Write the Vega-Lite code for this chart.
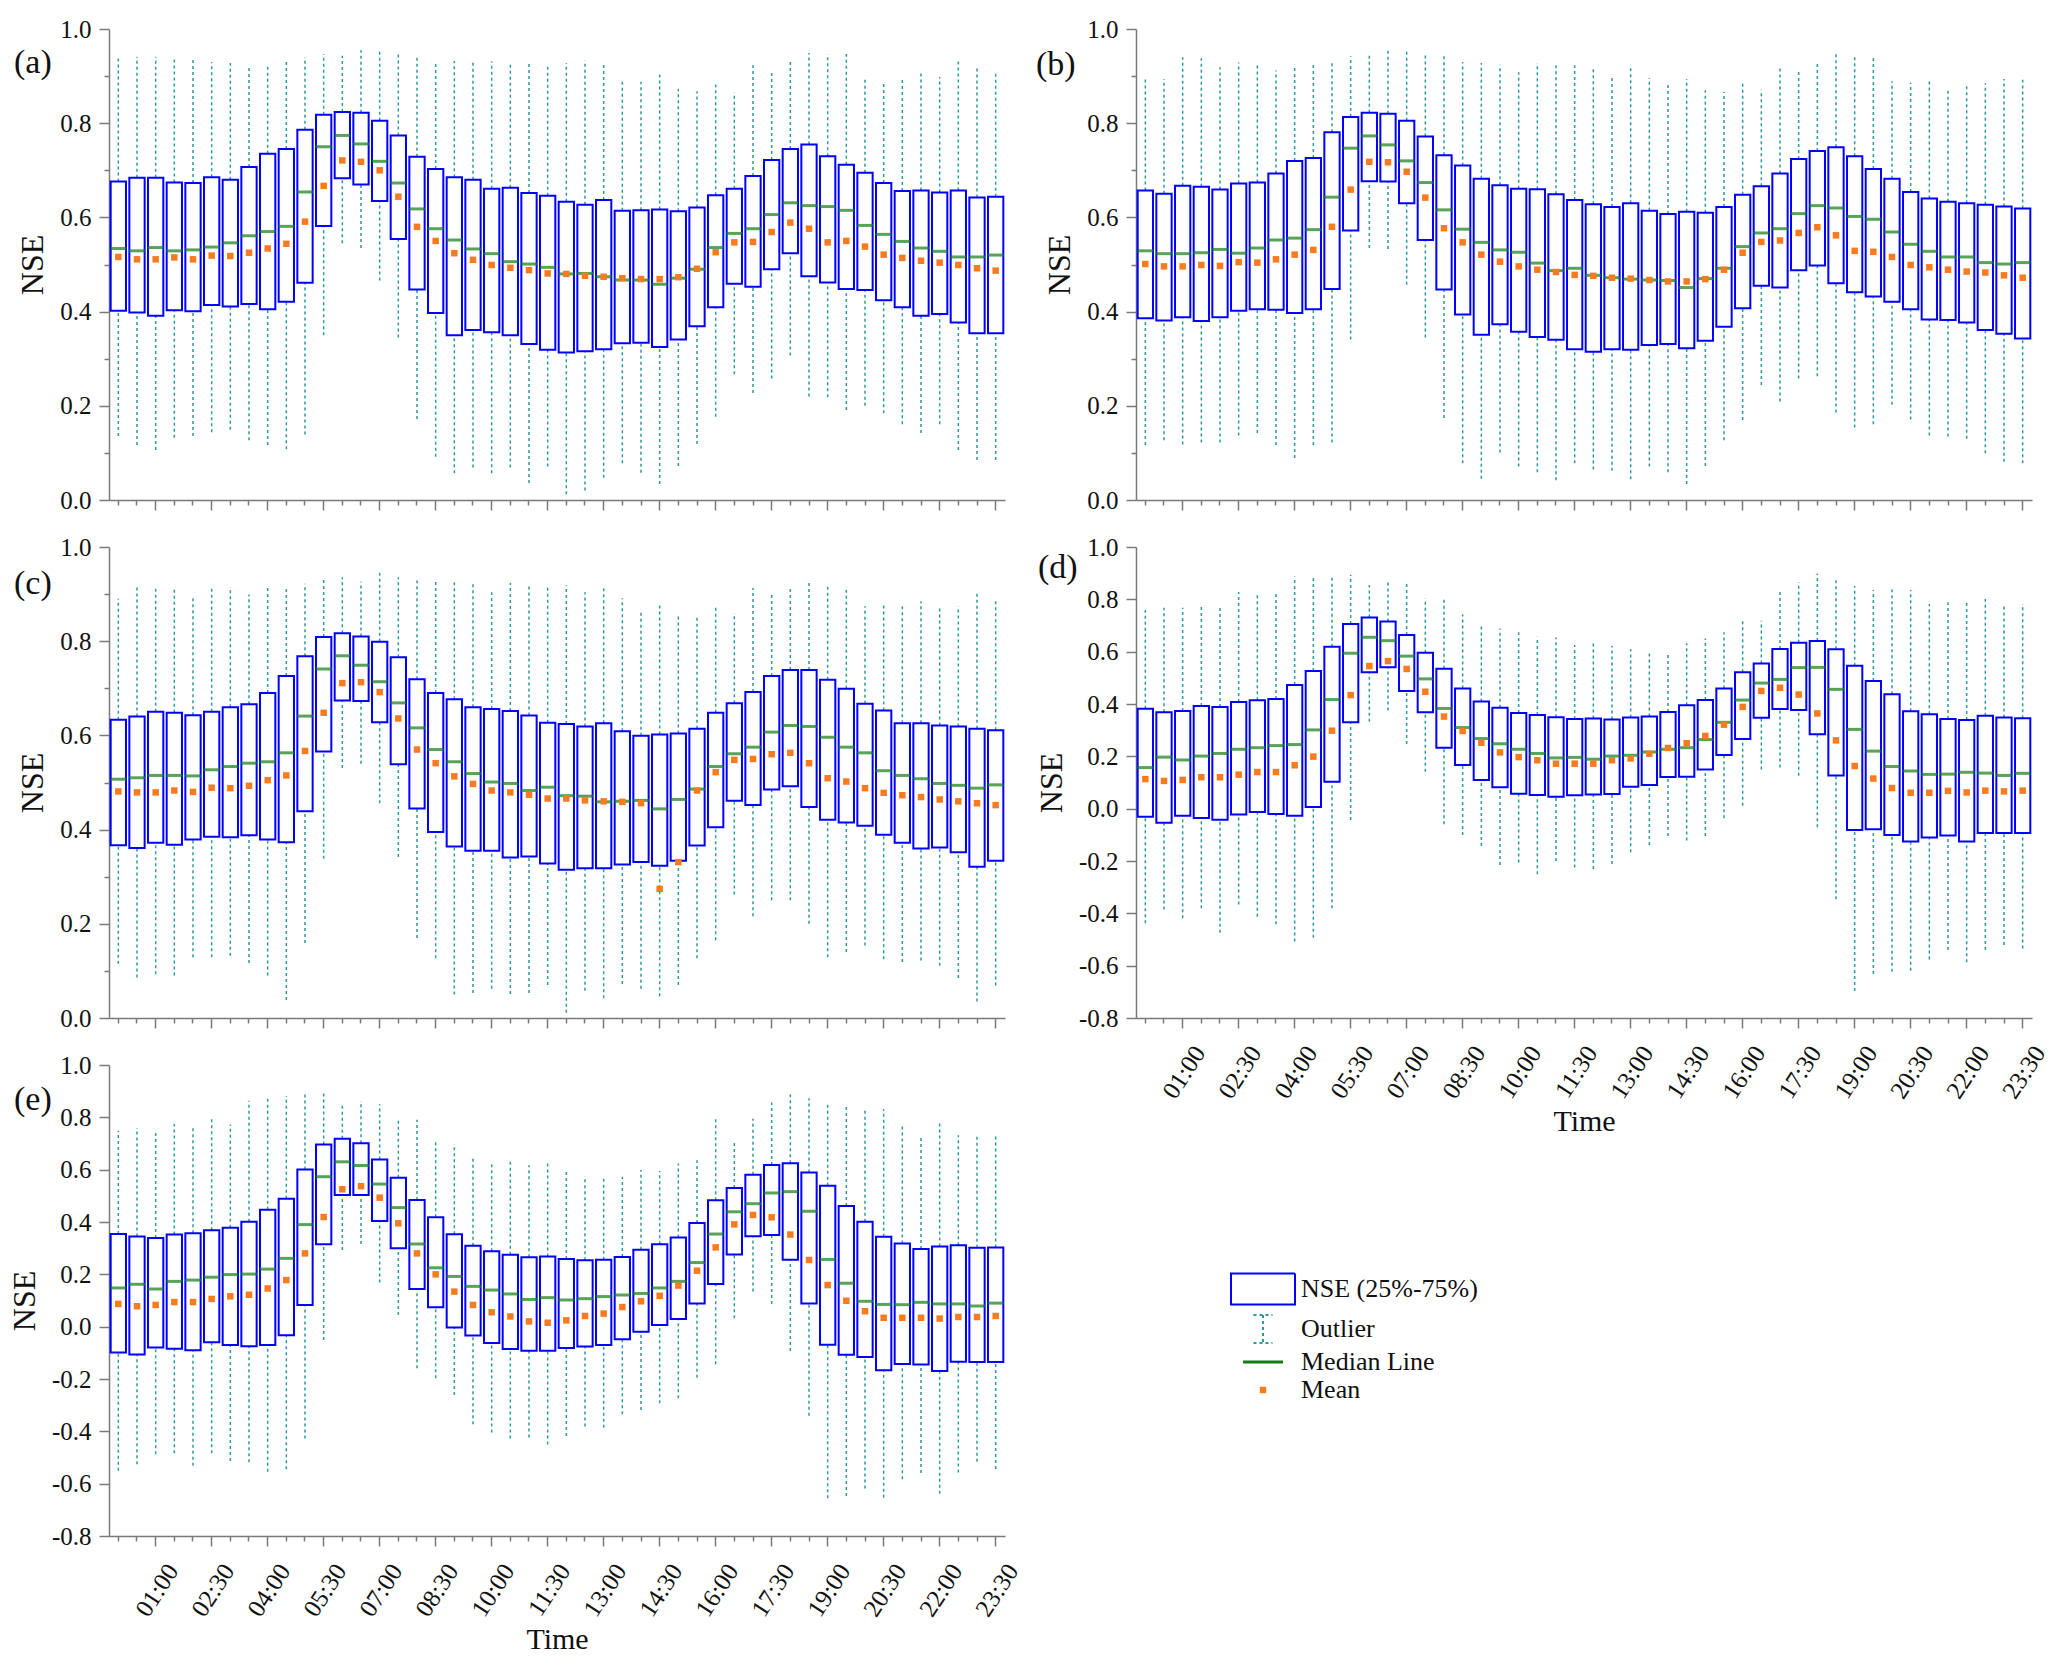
{
  "$schema": "https://vega.github.io/schema/vega-lite/v6.json",
  "background": "white",
  "padding": {"left": 8, "top": 17, "right": 5, "bottom": 5},
  "datasets": {
    "a": [
      {"t":"00:00","q1":0.402,"q3":0.676,"md":0.534,"mn":0.516,"lo":0.136,"hi":0.940},
      {"t":"00:30","q1":0.398,"q3":0.684,"md":0.529,"mn":0.511,"lo":0.117,"hi":0.941},
      {"t":"01:00","q1":0.391,"q3":0.684,"md":0.536,"mn":0.511,"lo":0.106,"hi":0.941},
      {"t":"01:30","q1":0.403,"q3":0.674,"md":0.529,"mn":0.515,"lo":0.132,"hi":0.939},
      {"t":"02:00","q1":0.401,"q3":0.673,"md":0.531,"mn":0.511,"lo":0.136,"hi":0.934},
      {"t":"02:30","q1":0.414,"q3":0.685,"md":0.537,"mn":0.519,"lo":0.144,"hi":0.930},
      {"t":"03:00","q1":0.411,"q3":0.680,"md":0.546,"mn":0.518,"lo":0.149,"hi":0.928},
      {"t":"03:30","q1":0.416,"q3":0.707,"md":0.561,"mn":0.525,"lo":0.127,"hi":0.919},
      {"t":"04:00","q1":0.405,"q3":0.735,"md":0.570,"mn":0.534,"lo":0.117,"hi":0.926},
      {"t":"04:30","q1":0.421,"q3":0.745,"md":0.581,"mn":0.544,"lo":0.108,"hi":0.933},
      {"t":"05:00","q1":0.461,"q3":0.786,"md":0.654,"mn":0.591,"lo":0.139,"hi":0.940},
      {"t":"05:30","q1":0.582,"q3":0.818,"md":0.750,"mn":0.667,"lo":0.350,"hi":0.947},
      {"t":"06:00","q1":0.683,"q3":0.824,"md":0.774,"mn":0.721,"lo":0.545,"hi":0.943},
      {"t":"06:30","q1":0.670,"q3":0.822,"md":0.756,"mn":0.718,"lo":0.535,"hi":0.955},
      {"t":"07:00","q1":0.635,"q3":0.805,"md":0.719,"mn":0.700,"lo":0.466,"hi":0.955},
      {"t":"07:30","q1":0.554,"q3":0.774,"md":0.673,"mn":0.644,"lo":0.345,"hi":0.946},
      {"t":"08:00","q1":0.447,"q3":0.729,"md":0.618,"mn":0.580,"lo":0.172,"hi":0.941},
      {"t":"08:30","q1":0.397,"q3":0.703,"md":0.576,"mn":0.550,"lo":0.092,"hi":0.930},
      {"t":"09:00","q1":0.350,"q3":0.685,"md":0.552,"mn":0.524,"lo":0.057,"hi":0.932},
      {"t":"09:30","q1":0.361,"q3":0.680,"md":0.533,"mn":0.510,"lo":0.069,"hi":0.932},
      {"t":"10:00","q1":0.356,"q3":0.661,"md":0.523,"mn":0.499,"lo":0.057,"hi":0.931},
      {"t":"10:30","q1":0.350,"q3":0.663,"md":0.506,"mn":0.493,"lo":0.069,"hi":0.928},
      {"t":"11:00","q1":0.331,"q3":0.652,"md":0.501,"mn":0.488,"lo":0.036,"hi":0.931},
      {"t":"11:30","q1":0.319,"q3":0.646,"md":0.494,"mn":0.481,"lo":0.071,"hi":0.926},
      {"t":"12:00","q1":0.313,"q3":0.633,"md":0.480,"mn":0.480,"lo":0.012,"hi":0.928},
      {"t":"12:30","q1":0.316,"q3":0.627,"md":0.481,"mn":0.476,"lo":0.020,"hi":0.933},
      {"t":"13:00","q1":0.320,"q3":0.637,"md":0.474,"mn":0.474,"lo":0.047,"hi":0.928},
      {"t":"13:30","q1":0.333,"q3":0.614,"md":0.467,"mn":0.471,"lo":0.078,"hi":0.891},
      {"t":"14:00","q1":0.334,"q3":0.615,"md":0.467,"mn":0.469,"lo":0.058,"hi":0.888},
      {"t":"14:30","q1":0.325,"q3":0.617,"md":0.458,"mn":0.469,"lo":0.034,"hi":0.910},
      {"t":"15:00","q1":0.341,"q3":0.613,"md":0.471,"mn":0.473,"lo":0.072,"hi":0.873},
      {"t":"15:30","q1":0.369,"q3":0.621,"md":0.490,"mn":0.491,"lo":0.119,"hi":0.868},
      {"t":"16:00","q1":0.409,"q3":0.647,"md":0.536,"mn":0.526,"lo":0.177,"hi":0.882},
      {"t":"16:30","q1":0.459,"q3":0.661,"md":0.566,"mn":0.547,"lo":0.267,"hi":0.865},
      {"t":"17:00","q1":0.453,"q3":0.688,"md":0.576,"mn":0.548,"lo":0.227,"hi":0.923},
      {"t":"17:30","q1":0.490,"q3":0.722,"md":0.606,"mn":0.569,"lo":0.258,"hi":0.909},
      {"t":"18:00","q1":0.524,"q3":0.745,"md":0.631,"mn":0.589,"lo":0.307,"hi":0.932},
      {"t":"18:30","q1":0.475,"q3":0.755,"md":0.625,"mn":0.576,"lo":0.220,"hi":0.949},
      {"t":"19:00","q1":0.462,"q3":0.730,"md":0.623,"mn":0.547,"lo":0.218,"hi":0.947},
      {"t":"19:30","q1":0.448,"q3":0.712,"md":0.615,"mn":0.550,"lo":0.191,"hi":0.947},
      {"t":"20:00","q1":0.446,"q3":0.695,"md":0.583,"mn":0.538,"lo":0.200,"hi":0.892},
      {"t":"20:30","q1":0.424,"q3":0.673,"md":0.564,"mn":0.521,"lo":0.184,"hi":0.889},
      {"t":"21:00","q1":0.409,"q3":0.656,"md":0.549,"mn":0.514,"lo":0.161,"hi":0.897},
      {"t":"21:30","q1":0.391,"q3":0.657,"md":0.535,"mn":0.508,"lo":0.142,"hi":0.906},
      {"t":"22:00","q1":0.395,"q3":0.653,"md":0.528,"mn":0.504,"lo":0.161,"hi":0.898},
      {"t":"22:30","q1":0.377,"q3":0.657,"md":0.516,"mn":0.499,"lo":0.106,"hi":0.931},
      {"t":"23:00","q1":0.354,"q3":0.642,"md":0.516,"mn":0.492,"lo":0.085,"hi":0.922},
      {"t":"23:30","q1":0.354,"q3":0.644,"md":0.520,"mn":0.487,"lo":0.085,"hi":0.905}
    ],
    "b": [
      {"t":"00:00","q1":0.386,"q3":0.657,"md":0.529,"mn":0.501,"lo":0.117,"hi":0.897},
      {"t":"00:30","q1":0.381,"q3":0.650,"md":0.523,"mn":0.496,"lo":0.127,"hi":0.894},
      {"t":"01:00","q1":0.388,"q3":0.667,"md":0.523,"mn":0.496,"lo":0.118,"hi":0.940},
      {"t":"01:30","q1":0.380,"q3":0.665,"md":0.525,"mn":0.499,"lo":0.122,"hi":0.938},
      {"t":"02:00","q1":0.388,"q3":0.659,"md":0.532,"mn":0.497,"lo":0.122,"hi":0.919},
      {"t":"02:30","q1":0.402,"q3":0.672,"md":0.524,"mn":0.505,"lo":0.137,"hi":0.929},
      {"t":"03:00","q1":0.405,"q3":0.674,"md":0.535,"mn":0.504,"lo":0.142,"hi":0.926},
      {"t":"03:30","q1":0.404,"q3":0.693,"md":0.552,"mn":0.511,"lo":0.117,"hi":0.912},
      {"t":"04:00","q1":0.397,"q3":0.720,"md":0.556,"mn":0.521,"lo":0.089,"hi":0.924},
      {"t":"04:30","q1":0.405,"q3":0.726,"md":0.574,"mn":0.531,"lo":0.117,"hi":0.924},
      {"t":"05:00","q1":0.448,"q3":0.781,"md":0.643,"mn":0.580,"lo":0.122,"hi":0.931},
      {"t":"05:30","q1":0.572,"q3":0.813,"md":0.747,"mn":0.659,"lo":0.341,"hi":0.942},
      {"t":"06:00","q1":0.677,"q3":0.822,"md":0.773,"mn":0.718,"lo":0.535,"hi":0.945},
      {"t":"06:30","q1":0.676,"q3":0.820,"md":0.754,"mn":0.717,"lo":0.533,"hi":0.957},
      {"t":"07:00","q1":0.630,"q3":0.805,"md":0.720,"mn":0.697,"lo":0.457,"hi":0.955},
      {"t":"07:30","q1":0.552,"q3":0.772,"md":0.674,"mn":0.642,"lo":0.345,"hi":0.945},
      {"t":"08:00","q1":0.447,"q3":0.732,"md":0.616,"mn":0.577,"lo":0.174,"hi":0.942},
      {"t":"08:30","q1":0.394,"q3":0.710,"md":0.575,"mn":0.547,"lo":0.078,"hi":0.930},
      {"t":"09:00","q1":0.351,"q3":0.682,"md":0.547,"mn":0.521,"lo":0.045,"hi":0.928},
      {"t":"09:30","q1":0.373,"q3":0.668,"md":0.531,"mn":0.506,"lo":0.101,"hi":0.924},
      {"t":"10:00","q1":0.357,"q3":0.661,"md":0.526,"mn":0.496,"lo":0.071,"hi":0.908},
      {"t":"10:30","q1":0.346,"q3":0.660,"md":0.503,"mn":0.489,"lo":0.059,"hi":0.928},
      {"t":"11:00","q1":0.340,"q3":0.649,"md":0.487,"mn":0.484,"lo":0.042,"hi":0.923},
      {"t":"11:30","q1":0.320,"q3":0.637,"md":0.492,"mn":0.478,"lo":0.078,"hi":0.923},
      {"t":"12:00","q1":0.315,"q3":0.628,"md":0.477,"mn":0.476,"lo":0.065,"hi":0.921},
      {"t":"12:30","q1":0.320,"q3":0.622,"md":0.472,"mn":0.472,"lo":0.062,"hi":0.903},
      {"t":"13:00","q1":0.319,"q3":0.630,"md":0.469,"mn":0.470,"lo":0.044,"hi":0.917},
      {"t":"13:30","q1":0.329,"q3":0.614,"md":0.467,"mn":0.467,"lo":0.071,"hi":0.896},
      {"t":"14:00","q1":0.331,"q3":0.607,"md":0.466,"mn":0.464,"lo":0.059,"hi":0.882},
      {"t":"14:30","q1":0.322,"q3":0.612,"md":0.451,"mn":0.464,"lo":0.034,"hi":0.894},
      {"t":"15:00","q1":0.338,"q3":0.610,"md":0.470,"mn":0.469,"lo":0.072,"hi":0.870},
      {"t":"15:30","q1":0.368,"q3":0.622,"md":0.492,"mn":0.489,"lo":0.127,"hi":0.866},
      {"t":"16:00","q1":0.407,"q3":0.648,"md":0.538,"mn":0.525,"lo":0.170,"hi":0.885},
      {"t":"16:30","q1":0.455,"q3":0.666,"md":0.567,"mn":0.548,"lo":0.244,"hi":0.871},
      {"t":"17:00","q1":0.451,"q3":0.693,"md":0.576,"mn":0.551,"lo":0.209,"hi":0.921},
      {"t":"17:30","q1":0.488,"q3":0.724,"md":0.608,"mn":0.567,"lo":0.258,"hi":0.909},
      {"t":"18:00","q1":0.498,"q3":0.741,"md":0.625,"mn":0.579,"lo":0.263,"hi":0.931},
      {"t":"18:30","q1":0.460,"q3":0.749,"md":0.620,"mn":0.562,"lo":0.186,"hi":0.951},
      {"t":"19:00","q1":0.441,"q3":0.730,"md":0.602,"mn":0.529,"lo":0.154,"hi":0.943},
      {"t":"19:30","q1":0.432,"q3":0.703,"md":0.596,"mn":0.527,"lo":0.161,"hi":0.943},
      {"t":"20:00","q1":0.421,"q3":0.682,"md":0.569,"mn":0.516,"lo":0.202,"hi":0.889},
      {"t":"20:30","q1":0.405,"q3":0.654,"md":0.543,"mn":0.499,"lo":0.171,"hi":0.886},
      {"t":"21:00","q1":0.383,"q3":0.640,"md":0.528,"mn":0.494,"lo":0.137,"hi":0.895},
      {"t":"21:30","q1":0.382,"q3":0.633,"md":0.516,"mn":0.489,"lo":0.135,"hi":0.874},
      {"t":"22:00","q1":0.377,"q3":0.630,"md":0.516,"mn":0.485,"lo":0.130,"hi":0.882},
      {"t":"22:30","q1":0.361,"q3":0.627,"md":0.504,"mn":0.483,"lo":0.099,"hi":0.885},
      {"t":"23:00","q1":0.353,"q3":0.623,"md":0.501,"mn":0.477,"lo":0.081,"hi":0.894},
      {"t":"23:30","q1":0.343,"q3":0.619,"md":0.504,"mn":0.472,"lo":0.078,"hi":0.892}
    ],
    "c": [
      {"t":"00:00","q1":0.367,"q3":0.633,"md":0.507,"mn":0.481,"lo":0.115,"hi":0.890},
      {"t":"00:30","q1":0.361,"q3":0.640,"md":0.510,"mn":0.479,"lo":0.086,"hi":0.919},
      {"t":"01:00","q1":0.372,"q3":0.650,"md":0.515,"mn":0.479,"lo":0.093,"hi":0.916},
      {"t":"01:30","q1":0.368,"q3":0.648,"md":0.515,"mn":0.483,"lo":0.090,"hi":0.915},
      {"t":"02:00","q1":0.379,"q3":0.643,"md":0.514,"mn":0.480,"lo":0.129,"hi":0.895},
      {"t":"02:30","q1":0.385,"q3":0.650,"md":0.527,"mn":0.489,"lo":0.129,"hi":0.915},
      {"t":"03:00","q1":0.384,"q3":0.660,"md":0.534,"mn":0.488,"lo":0.132,"hi":0.915},
      {"t":"03:30","q1":0.388,"q3":0.666,"md":0.541,"mn":0.493,"lo":0.117,"hi":0.899},
      {"t":"04:00","q1":0.379,"q3":0.690,"md":0.544,"mn":0.505,"lo":0.090,"hi":0.913},
      {"t":"04:30","q1":0.373,"q3":0.726,"md":0.563,"mn":0.515,"lo":0.038,"hi":0.914},
      {"t":"05:00","q1":0.439,"q3":0.768,"md":0.641,"mn":0.567,"lo":0.159,"hi":0.922},
      {"t":"05:30","q1":0.566,"q3":0.809,"md":0.741,"mn":0.648,"lo":0.338,"hi":0.932},
      {"t":"06:00","q1":0.674,"q3":0.817,"md":0.769,"mn":0.711,"lo":0.531,"hi":0.936},
      {"t":"06:30","q1":0.673,"q3":0.810,"md":0.749,"mn":0.713,"lo":0.540,"hi":0.926},
      {"t":"07:00","q1":0.628,"q3":0.799,"md":0.714,"mn":0.692,"lo":0.456,"hi":0.948},
      {"t":"07:30","q1":0.539,"q3":0.766,"md":0.669,"mn":0.636,"lo":0.342,"hi":0.936},
      {"t":"08:00","q1":0.445,"q3":0.719,"md":0.616,"mn":0.570,"lo":0.170,"hi":0.929},
      {"t":"08:30","q1":0.395,"q3":0.690,"md":0.570,"mn":0.541,"lo":0.127,"hi":0.926},
      {"t":"09:00","q1":0.364,"q3":0.677,"md":0.544,"mn":0.513,"lo":0.050,"hi":0.926},
      {"t":"09:30","q1":0.355,"q3":0.660,"md":0.519,"mn":0.497,"lo":0.053,"hi":0.924},
      {"t":"10:00","q1":0.355,"q3":0.656,"md":0.501,"mn":0.483,"lo":0.062,"hi":0.904},
      {"t":"10:30","q1":0.341,"q3":0.652,"md":0.498,"mn":0.479,"lo":0.051,"hi":0.924},
      {"t":"11:00","q1":0.343,"q3":0.642,"md":0.483,"mn":0.474,"lo":0.053,"hi":0.919},
      {"t":"11:30","q1":0.328,"q3":0.627,"md":0.490,"mn":0.466,"lo":0.070,"hi":0.920},
      {"t":"12:00","q1":0.315,"q3":0.624,"md":0.472,"mn":0.466,"lo":0.011,"hi":0.919},
      {"t":"12:30","q1":0.318,"q3":0.619,"md":0.471,"mn":0.462,"lo":0.058,"hi":0.904},
      {"t":"13:00","q1":0.318,"q3":0.626,"md":0.459,"mn":0.460,"lo":0.042,"hi":0.914},
      {"t":"13:30","q1":0.326,"q3":0.609,"md":0.460,"mn":0.459,"lo":0.072,"hi":0.891},
      {"t":"14:00","q1":0.331,"q3":0.599,"md":0.462,"mn":0.456,"lo":0.062,"hi":0.866},
      {"t":"14:30","q1":0.323,"q3":0.602,"md":0.444,"mn":0.274,"lo":0.046,"hi":0.878},
      {"t":"15:00","q1":0.334,"q3":0.604,"md":0.464,"mn":0.331,"lo":0.070,"hi":0.856},
      {"t":"15:30","q1":0.366,"q3":0.614,"md":0.486,"mn":0.483,"lo":0.127,"hi":0.856},
      {"t":"16:00","q1":0.405,"q3":0.648,"md":0.534,"mn":0.522,"lo":0.165,"hi":0.875},
      {"t":"16:30","q1":0.461,"q3":0.668,"md":0.561,"mn":0.548,"lo":0.262,"hi":0.860},
      {"t":"17:00","q1":0.452,"q3":0.692,"md":0.575,"mn":0.550,"lo":0.216,"hi":0.913},
      {"t":"17:30","q1":0.485,"q3":0.726,"md":0.607,"mn":0.560,"lo":0.250,"hi":0.902},
      {"t":"18:00","q1":0.492,"q3":0.739,"md":0.621,"mn":0.563,"lo":0.250,"hi":0.913},
      {"t":"18:30","q1":0.448,"q3":0.739,"md":0.619,"mn":0.541,"lo":0.200,"hi":0.926},
      {"t":"19:00","q1":0.421,"q3":0.718,"md":0.596,"mn":0.509,"lo":0.129,"hi":0.919},
      {"t":"19:30","q1":0.415,"q3":0.699,"md":0.575,"mn":0.502,"lo":0.140,"hi":0.916},
      {"t":"20:00","q1":0.408,"q3":0.667,"md":0.563,"mn":0.488,"lo":0.154,"hi":0.874},
      {"t":"20:30","q1":0.389,"q3":0.653,"md":0.525,"mn":0.478,"lo":0.125,"hi":0.876},
      {"t":"21:00","q1":0.372,"q3":0.626,"md":0.515,"mn":0.473,"lo":0.119,"hi":0.876},
      {"t":"21:30","q1":0.360,"q3":0.626,"md":0.508,"mn":0.469,"lo":0.122,"hi":0.885},
      {"t":"22:00","q1":0.362,"q3":0.621,"md":0.498,"mn":0.464,"lo":0.111,"hi":0.870},
      {"t":"22:30","q1":0.352,"q3":0.619,"md":0.494,"mn":0.460,"lo":0.085,"hi":0.874},
      {"t":"23:00","q1":0.321,"q3":0.614,"md":0.488,"mn":0.456,"lo":0.035,"hi":0.901},
      {"t":"23:30","q1":0.334,"q3":0.611,"md":0.495,"mn":0.452,"lo":0.069,"hi":0.887}
    ],
    "d": [
      {"t":"00:00","q1":-0.031,"q3":0.382,"md":0.157,"mn":0.113,"lo":-0.438,"hi":0.759},
      {"t":"00:30","q1":-0.054,"q3":0.368,"md":0.197,"mn":0.106,"lo":-0.385,"hi":0.768},
      {"t":"01:00","q1":-0.027,"q3":0.373,"md":0.186,"mn":0.110,"lo":-0.419,"hi":0.768},
      {"t":"01:30","q1":-0.036,"q3":0.392,"md":0.201,"mn":0.120,"lo":-0.381,"hi":0.782},
      {"t":"02:00","q1":-0.042,"q3":0.389,"md":0.211,"mn":0.120,"lo":-0.474,"hi":0.775},
      {"t":"02:30","q1":-0.022,"q3":0.408,"md":0.227,"mn":0.130,"lo":-0.366,"hi":0.828},
      {"t":"03:00","q1":-0.013,"q3":0.414,"md":0.233,"mn":0.140,"lo":-0.413,"hi":0.823},
      {"t":"03:30","q1":-0.020,"q3":0.419,"md":0.241,"mn":0.140,"lo":-0.442,"hi":0.820},
      {"t":"04:00","q1":-0.027,"q3":0.473,"md":0.245,"mn":0.166,"lo":-0.508,"hi":0.887},
      {"t":"04:30","q1":0.006,"q3":0.526,"md":0.301,"mn":0.199,"lo":-0.493,"hi":0.884},
      {"t":"05:00","q1":0.103,"q3":0.619,"md":0.417,"mn":0.298,"lo":-0.381,"hi":0.894},
      {"t":"05:30","q1":0.330,"q3":0.706,"md":0.594,"mn":0.434,"lo":-0.043,"hi":0.894},
      {"t":"06:00","q1":0.521,"q3":0.731,"md":0.655,"mn":0.545,"lo":0.332,"hi":0.855},
      {"t":"06:30","q1":0.540,"q3":0.715,"md":0.642,"mn":0.564,"lo":0.375,"hi":0.868},
      {"t":"07:00","q1":0.450,"q3":0.664,"md":0.583,"mn":0.534,"lo":0.247,"hi":0.861},
      {"t":"07:30","q1":0.368,"q3":0.596,"md":0.496,"mn":0.447,"lo":0.141,"hi":0.803},
      {"t":"08:00","q1":0.233,"q3":0.535,"md":0.383,"mn":0.352,"lo":-0.060,"hi":0.808},
      {"t":"08:30","q1":0.167,"q3":0.459,"md":0.310,"mn":0.297,"lo":-0.101,"hi":0.743},
      {"t":"09:00","q1":0.110,"q3":0.410,"md":0.268,"mn":0.252,"lo":-0.143,"hi":0.696},
      {"t":"09:30","q1":0.082,"q3":0.386,"md":0.248,"mn":0.215,"lo":-0.215,"hi":0.689},
      {"t":"10:00","q1":0.057,"q3":0.366,"md":0.227,"mn":0.197,"lo":-0.206,"hi":0.674},
      {"t":"10:30","q1":0.052,"q3":0.358,"md":0.211,"mn":0.185,"lo":-0.251,"hi":0.657},
      {"t":"11:00","q1":0.046,"q3":0.349,"md":0.194,"mn":0.172,"lo":-0.200,"hi":0.654},
      {"t":"11:30","q1":0.051,"q3":0.343,"md":0.196,"mn":0.172,"lo":-0.225,"hi":0.625},
      {"t":"12:00","q1":0.054,"q3":0.345,"md":0.189,"mn":0.172,"lo":-0.231,"hi":0.632},
      {"t":"12:30","q1":0.056,"q3":0.341,"md":0.201,"mn":0.185,"lo":-0.211,"hi":0.623},
      {"t":"13:00","q1":0.084,"q3":0.348,"md":0.204,"mn":0.192,"lo":-0.167,"hi":0.610},
      {"t":"13:30","q1":0.090,"q3":0.352,"md":0.217,"mn":0.210,"lo":-0.139,"hi":0.597},
      {"t":"14:00","q1":0.121,"q3":0.369,"md":0.227,"mn":0.232,"lo":-0.104,"hi":0.597},
      {"t":"14:30","q1":0.122,"q3":0.395,"md":0.233,"mn":0.250,"lo":-0.122,"hi":0.632},
      {"t":"15:00","q1":0.150,"q3":0.415,"md":0.264,"mn":0.278,"lo":-0.104,"hi":0.650},
      {"t":"15:30","q1":0.205,"q3":0.459,"md":0.330,"mn":0.321,"lo":-0.037,"hi":0.674},
      {"t":"16:00","q1":0.266,"q3":0.521,"md":0.415,"mn":0.389,"lo":0.011,"hi":0.721},
      {"t":"16:30","q1":0.347,"q3":0.555,"md":0.480,"mn":0.450,"lo":0.150,"hi":0.718},
      {"t":"17:00","q1":0.381,"q3":0.610,"md":0.494,"mn":0.462,"lo":0.157,"hi":0.836},
      {"t":"17:30","q1":0.377,"q3":0.634,"md":0.539,"mn":0.436,"lo":0.126,"hi":0.865},
      {"t":"18:00","q1":0.284,"q3":0.641,"md":0.540,"mn":0.364,"lo":-0.071,"hi":0.899},
      {"t":"18:30","q1":0.127,"q3":0.609,"md":0.456,"mn":0.261,"lo":-0.346,"hi":0.876},
      {"t":"19:00","q1":-0.082,"q3":0.546,"md":0.303,"mn":0.163,"lo":-0.697,"hi":0.851},
      {"t":"19:30","q1":-0.079,"q3":0.488,"md":0.220,"mn":0.115,"lo":-0.632,"hi":0.836},
      {"t":"20:00","q1":-0.101,"q3":0.437,"md":0.161,"mn":0.079,"lo":-0.623,"hi":0.842},
      {"t":"20:30","q1":-0.125,"q3":0.372,"md":0.144,"mn":0.061,"lo":-0.619,"hi":0.836},
      {"t":"21:00","q1":-0.110,"q3":0.361,"md":0.131,"mn":0.061,"lo":-0.576,"hi":0.782},
      {"t":"21:30","q1":-0.103,"q3":0.343,"md":0.132,"mn":0.068,"lo":-0.540,"hi":0.789},
      {"t":"22:00","q1":-0.125,"q3":0.339,"md":0.139,"mn":0.062,"lo":-0.587,"hi":0.791},
      {"t":"22:30","q1":-0.093,"q3":0.355,"md":0.136,"mn":0.069,"lo":-0.540,"hi":0.801},
      {"t":"23:00","q1":-0.093,"q3":0.348,"md":0.127,"mn":0.066,"lo":-0.521,"hi":0.778},
      {"t":"23:30","q1":-0.093,"q3":0.346,"md":0.135,"mn":0.069,"lo":-0.534,"hi":0.782}
    ],
    "e": [
      {"t":"00:00","q1":-0.099,"q3":0.354,"md":0.148,"mn":0.087,"lo":-0.551,"hi":0.749},
      {"t":"00:30","q1":-0.106,"q3":0.345,"md":0.162,"mn":0.078,"lo":-0.526,"hi":0.759},
      {"t":"01:00","q1":-0.080,"q3":0.339,"md":0.144,"mn":0.083,"lo":-0.488,"hi":0.749},
      {"t":"01:30","q1":-0.084,"q3":0.352,"md":0.173,"mn":0.094,"lo":-0.484,"hi":0.775},
      {"t":"02:00","q1":-0.090,"q3":0.357,"md":0.178,"mn":0.094,"lo":-0.532,"hi":0.764},
      {"t":"02:30","q1":-0.060,"q3":0.368,"md":0.189,"mn":0.106,"lo":-0.484,"hi":0.796},
      {"t":"03:00","q1":-0.070,"q3":0.378,"md":0.199,"mn":0.116,"lo":-0.513,"hi":0.773},
      {"t":"03:30","q1":-0.075,"q3":0.401,"md":0.201,"mn":0.122,"lo":-0.518,"hi":0.863},
      {"t":"04:00","q1":-0.070,"q3":0.447,"md":0.220,"mn":0.146,"lo":-0.554,"hi":0.882},
      {"t":"04:30","q1":-0.033,"q3":0.489,"md":0.261,"mn":0.178,"lo":-0.545,"hi":0.882},
      {"t":"05:00","q1":0.083,"q3":0.601,"md":0.390,"mn":0.280,"lo":-0.427,"hi":0.891},
      {"t":"05:30","q1":0.315,"q3":0.696,"md":0.573,"mn":0.419,"lo":-0.051,"hi":0.891},
      {"t":"06:00","q1":0.503,"q3":0.718,"md":0.630,"mn":0.525,"lo":0.293,"hi":0.852},
      {"t":"06:30","q1":0.503,"q3":0.701,"md":0.616,"mn":0.537,"lo":0.316,"hi":0.862},
      {"t":"07:00","q1":0.404,"q3":0.639,"md":0.545,"mn":0.493,"lo":0.169,"hi":0.850},
      {"t":"07:30","q1":0.300,"q3":0.569,"md":0.455,"mn":0.395,"lo":0.045,"hi":0.798},
      {"t":"08:00","q1":0.144,"q3":0.484,"md":0.316,"mn":0.280,"lo":-0.159,"hi":0.791},
      {"t":"08:30","q1":0.074,"q3":0.418,"md":0.225,"mn":0.200,"lo":-0.197,"hi":0.716},
      {"t":"09:00","q1":-0.003,"q3":0.353,"md":0.192,"mn":0.134,"lo":-0.261,"hi":0.698},
      {"t":"09:30","q1":-0.034,"q3":0.309,"md":0.154,"mn":0.083,"lo":-0.373,"hi":0.653},
      {"t":"10:00","q1":-0.062,"q3":0.288,"md":0.140,"mn":0.055,"lo":-0.404,"hi":0.630},
      {"t":"10:30","q1":-0.085,"q3":0.275,"md":0.125,"mn":0.039,"lo":-0.427,"hi":0.635},
      {"t":"11:00","q1":-0.092,"q3":0.265,"md":0.104,"mn":0.020,"lo":-0.424,"hi":0.617},
      {"t":"11:30","q1":-0.092,"q3":0.268,"md":0.111,"mn":0.015,"lo":-0.450,"hi":0.625},
      {"t":"12:00","q1":-0.082,"q3":0.259,"md":0.102,"mn":0.024,"lo":-0.418,"hi":0.596},
      {"t":"12:30","q1":-0.076,"q3":0.254,"md":0.107,"mn":0.041,"lo":-0.382,"hi":0.576},
      {"t":"13:00","q1":-0.070,"q3":0.256,"md":0.115,"mn":0.050,"lo":-0.386,"hi":0.573},
      {"t":"13:30","q1":-0.048,"q3":0.266,"md":0.121,"mn":0.075,"lo":-0.335,"hi":0.573},
      {"t":"14:00","q1":-0.019,"q3":0.294,"md":0.127,"mn":0.097,"lo":-0.318,"hi":0.599},
      {"t":"14:30","q1":0.006,"q3":0.315,"md":0.148,"mn":0.118,"lo":-0.293,"hi":0.595},
      {"t":"15:00","q1":0.029,"q3":0.341,"md":0.173,"mn":0.157,"lo":-0.274,"hi":0.624},
      {"t":"15:30","q1":0.089,"q3":0.396,"md":0.245,"mn":0.214,"lo":-0.195,"hi":0.636},
      {"t":"16:00","q1":0.163,"q3":0.483,"md":0.354,"mn":0.303,"lo":-0.144,"hi":0.800},
      {"t":"16:30","q1":0.276,"q3":0.530,"md":0.439,"mn":0.391,"lo":0.032,"hi":0.712},
      {"t":"17:00","q1":0.346,"q3":0.581,"md":0.470,"mn":0.427,"lo":0.134,"hi":0.795},
      {"t":"17:30","q1":0.350,"q3":0.618,"md":0.511,"mn":0.418,"lo":0.087,"hi":0.857},
      {"t":"18:00","q1":0.256,"q3":0.625,"md":0.516,"mn":0.352,"lo":-0.093,"hi":0.899},
      {"t":"18:30","q1":0.089,"q3":0.589,"md":0.441,"mn":0.255,"lo":-0.340,"hi":0.873},
      {"t":"19:00","q1":-0.069,"q3":0.539,"md":0.257,"mn":0.159,"lo":-0.656,"hi":0.851},
      {"t":"19:30","q1":-0.107,"q3":0.461,"md":0.166,"mn":0.099,"lo":-0.647,"hi":0.845},
      {"t":"20:00","q1":-0.116,"q3":0.401,"md":0.097,"mn":0.059,"lo":-0.618,"hi":0.837},
      {"t":"20:30","q1":-0.167,"q3":0.344,"md":0.085,"mn":0.034,"lo":-0.654,"hi":0.832},
      {"t":"21:00","q1":-0.143,"q3":0.318,"md":0.084,"mn":0.034,"lo":-0.583,"hi":0.775},
      {"t":"21:30","q1":-0.145,"q3":0.297,"md":0.093,"mn":0.034,"lo":-0.559,"hi":0.722},
      {"t":"22:00","q1":-0.169,"q3":0.306,"md":0.087,"mn":0.031,"lo":-0.639,"hi":0.782},
      {"t":"22:30","q1":-0.134,"q3":0.311,"md":0.087,"mn":0.037,"lo":-0.557,"hi":0.732},
      {"t":"23:00","q1":-0.135,"q3":0.302,"md":0.079,"mn":0.037,"lo":-0.516,"hi":0.736},
      {"t":"23:30","q1":-0.135,"q3":0.303,"md":0.090,"mn":0.041,"lo":-0.544,"hi":0.736}
    ]
  },
  "bounds": "flush",
  "columns": 2,
  "spacing": {"row": 47, "column": 131},
  "concat": [
    {
      "data": {"name": "a"},
      "width": 896,
      "height": 471,
      "title": {"text": "(a)", "dx": -95, "dy": 67},
      "encoding": {
        "x": {"field": "t", "type": "ordinal", "scale": {"paddingInner": 0.18, "paddingOuter": 0.09},
          "axis": {"title": null, "labels": false,
            "tickSize": {"condition": {"test": "(toNumber(substring(datum.value,0,2))*60+toNumber(substring(datum.value,3,5))-60)%90!=0", "value": 5}, "value": 10}}}
      },
      "layer": [
        {"mark": "rule", "encoding": {
          "y": {"field": "lo", "type": "quantitative", "title": "NSE", "scale": {"domain": [0, 1], "nice": false, "zero": false},
            "axis": {"values": [0, 0.1, 0.2, 0.3, 0.4, 0.5, 0.6, 0.7, 0.8, 0.9, 1],
              "labelExpr": "round(datum.value*10)%2!=0 ? '' : (datum.value < -0.001 ? '-' : '') + format(abs(datum.value), '.1f')",
              "tickSize": {"condition": {"test": "round(datum.value*10)%2!=0", "value": 5}, "value": 10}}},
          "y2": {"field": "q1"}}},
        {"mark": "rule", "encoding": {"y": {"field": "q3", "type": "quantitative", "title": "NSE"}, "y2": {"field": "hi"}}},
        {"mark": "bar", "encoding": {"y": {"field": "q1", "type": "quantitative", "title": "NSE"}, "y2": {"field": "q3"}}},
        {"mark": {"type": "tick", "size": 16}, "encoding": {"y": {"field": "md", "type": "quantitative", "title": "NSE"}}},
        {"mark": "square", "encoding": {"y": {"field": "mn", "type": "quantitative", "title": "NSE"}}}
      ]
    },
    {
      "data": {"name": "b"},
      "width": 896,
      "height": 471,
      "title": {"text": "(b)", "dx": -100, "dy": 69},
      "encoding": {
        "x": {"field": "t", "type": "ordinal", "scale": {"paddingInner": 0.18, "paddingOuter": 0.09},
          "axis": {"title": null, "labels": false,
            "tickSize": {"condition": {"test": "(toNumber(substring(datum.value,0,2))*60+toNumber(substring(datum.value,3,5))-60)%90!=0", "value": 5}, "value": 10}}}
      },
      "layer": [
        {"mark": "rule", "encoding": {
          "y": {"field": "lo", "type": "quantitative", "title": "NSE", "scale": {"domain": [0, 1], "nice": false, "zero": false},
            "axis": {"values": [0, 0.1, 0.2, 0.3, 0.4, 0.5, 0.6, 0.7, 0.8, 0.9, 1],
              "labelExpr": "round(datum.value*10)%2!=0 ? '' : (datum.value < -0.001 ? '-' : '') + format(abs(datum.value), '.1f')",
              "tickSize": {"condition": {"test": "round(datum.value*10)%2!=0", "value": 5}, "value": 10}}},
          "y2": {"field": "q1"}}},
        {"mark": "rule", "encoding": {"y": {"field": "q3", "type": "quantitative", "title": "NSE"}, "y2": {"field": "hi"}}},
        {"mark": "bar", "encoding": {"y": {"field": "q1", "type": "quantitative", "title": "NSE"}, "y2": {"field": "q3"}}},
        {"mark": {"type": "tick", "size": 16}, "encoding": {"y": {"field": "md", "type": "quantitative", "title": "NSE"}}},
        {"mark": "square", "encoding": {"y": {"field": "mn", "type": "quantitative", "title": "NSE"}}}
      ]
    },
    {
      "data": {"name": "c"},
      "width": 896,
      "height": 471,
      "title": {"text": "(c)", "dx": -95, "dy": 70},
      "encoding": {
        "x": {"field": "t", "type": "ordinal", "scale": {"paddingInner": 0.18, "paddingOuter": 0.09},
          "axis": {"title": null, "labels": false,
            "tickSize": {"condition": {"test": "(toNumber(substring(datum.value,0,2))*60+toNumber(substring(datum.value,3,5))-60)%90!=0", "value": 5}, "value": 10}}}
      },
      "layer": [
        {"mark": "rule", "encoding": {
          "y": {"field": "lo", "type": "quantitative", "title": "NSE", "scale": {"domain": [0, 1], "nice": false, "zero": false},
            "axis": {"values": [0, 0.1, 0.2, 0.3, 0.4, 0.5, 0.6, 0.7, 0.8, 0.9, 1],
              "labelExpr": "round(datum.value*10)%2!=0 ? '' : (datum.value < -0.001 ? '-' : '') + format(abs(datum.value), '.1f')",
              "tickSize": {"condition": {"test": "round(datum.value*10)%2!=0", "value": 5}, "value": 10}}},
          "y2": {"field": "q1"}}},
        {"mark": "rule", "encoding": {"y": {"field": "q3", "type": "quantitative", "title": "NSE"}, "y2": {"field": "hi"}}},
        {"mark": "bar", "encoding": {"y": {"field": "q1", "type": "quantitative", "title": "NSE"}, "y2": {"field": "q3"}}},
        {"mark": {"type": "tick", "size": 16}, "encoding": {"y": {"field": "md", "type": "quantitative", "title": "NSE"}}},
        {"mark": "square", "encoding": {"y": {"field": "mn", "type": "quantitative", "title": "NSE"}}}
      ]
    },
    {
      "data": {"name": "d"},
      "width": 896,
      "height": 471,
      "title": {"text": "(d)", "dx": -98, "dy": 54},
      "encoding": {
        "x": {"field": "t", "type": "ordinal", "scale": {"paddingInner": 0.18, "paddingOuter": 0.09},
          "axis": {"title": "Time", "labelAngle": -57, "labelAlign": "right", "labelBaseline": "middle", "labelOffset": 17, "labelPadding": 20, "labelOverlap": false,
            "labelExpr": "(toNumber(substring(datum.value,0,2))*60+toNumber(substring(datum.value,3,5))-60)%90!=0 ? '' : datum.label",
            "tickSize": {"condition": {"test": "(toNumber(substring(datum.value,0,2))*60+toNumber(substring(datum.value,3,5))-60)%90!=0", "value": 5}, "value": 10}}}
      },
      "layer": [
        {"mark": "rule", "encoding": {
          "y": {"field": "lo", "type": "quantitative", "title": "NSE", "scale": {"domain": [-0.8, 1], "nice": false, "zero": false},
            "axis": {"values": [-0.8, -0.7, -0.6, -0.5, -0.4, -0.3, -0.2, -0.1, 0, 0.1, 0.2, 0.3, 0.4, 0.5, 0.6, 0.7, 0.8, 0.9, 1],
              "labelExpr": "round(datum.value*10)%2!=0 ? '' : (datum.value < -0.001 ? '-' : '') + format(abs(datum.value), '.1f')",
              "tickSize": {"condition": {"test": "round(datum.value*10)%2!=0", "value": 5}, "value": 10}}},
          "y2": {"field": "q1"}}},
        {"mark": "rule", "encoding": {"y": {"field": "q3", "type": "quantitative", "title": "NSE"}, "y2": {"field": "hi"}}},
        {"mark": "bar", "encoding": {"y": {"field": "q1", "type": "quantitative", "title": "NSE"}, "y2": {"field": "q3"}}},
        {"mark": {"type": "tick", "size": 16}, "encoding": {"y": {"field": "md", "type": "quantitative", "title": "NSE"}}},
        {"mark": "square", "encoding": {"y": {"field": "mn", "type": "quantitative", "title": "NSE"}}}
      ]
    },
    {
      "data": {"name": "e"},
      "width": 896,
      "height": 471,
      "title": {"text": "(e)", "dx": -95, "dy": 68},
      "encoding": {
        "x": {"field": "t", "type": "ordinal", "scale": {"paddingInner": 0.18, "paddingOuter": 0.09},
          "axis": {"title": "Time", "labelAngle": -57, "labelAlign": "right", "labelBaseline": "middle", "labelOffset": 17, "labelPadding": 20, "labelOverlap": false,
            "labelExpr": "(toNumber(substring(datum.value,0,2))*60+toNumber(substring(datum.value,3,5))-60)%90!=0 ? '' : datum.label",
            "tickSize": {"condition": {"test": "(toNumber(substring(datum.value,0,2))*60+toNumber(substring(datum.value,3,5))-60)%90!=0", "value": 5}, "value": 10}}}
      },
      "layer": [
        {"mark": "rule", "encoding": {
          "y": {"field": "lo", "type": "quantitative", "title": "NSE", "scale": {"domain": [-0.8, 1], "nice": false, "zero": false},
            "axis": {"values": [-0.8, -0.7, -0.6, -0.5, -0.4, -0.3, -0.2, -0.1, 0, 0.1, 0.2, 0.3, 0.4, 0.5, 0.6, 0.7, 0.8, 0.9, 1],
              "labelExpr": "round(datum.value*10)%2!=0 ? '' : (datum.value < -0.001 ? '-' : '') + format(abs(datum.value), '.1f')",
              "tickSize": {"condition": {"test": "round(datum.value*10)%2!=0", "value": 5}, "value": 10}}},
          "y2": {"field": "q1"},
          "color": {"datum": "Outlier", "type": "nominal",
            "scale": {"domain": ["NSE (25%-75%)", "Outlier", "Median Line", "Mean"], "range": ["#0000ff", "#2e9b9b", "#127a12", "#fa7a1e"]},
            "legend": {"orient": "none", "legendX": 1141, "legendY": 1247, "title": null,
              "labelFont": "Liberation Serif", "labelFontSize": 26, "labelColor": "#111", "labelOffset": 25, "labelLimit": 500,
              "symbolSize": 256, "rowPadding": 2, "padding": 0,
              "encoding": {"symbols": {
                "shape": {"value": {"expr": "datum.value === 'NSE (25%-75%)' ? 'M-4,-1.94H4V1.94H-4Z' : datum.value === 'Outlier' ? 'M-1.19,-1.75H1.19M0,-1.75V1.75M-1.19,1.75H1.19' : datum.value === 'Median Line' ? 'M-2.5,0H2.5' : 'M-0.4,-0.4H0.4V0.4H-0.4Z'"}},
                "fill": {"value": {"expr": "datum.value === 'Mean' ? '#fa7a1e' : 'transparent'"}},
                "fillOpacity": {"value": {"expr": "datum.value === 'Mean' ? 1 : 0"}},
                "stroke": {"value": {"expr": "datum.value === 'NSE (25%-75%)' ? '#0000ff' : datum.value === 'Outlier' ? '#2e9b9b' : datum.value === 'Median Line' ? '#127a12' : '#fa7a1e'"}},
                "strokeWidth": {"value": {"expr": "datum.value === 'Median Line' ? 3 : datum.value === 'Mean' ? 0 : 2"}},
                "strokeDash": {"value": {"expr": "datum.value === 'Outlier' ? [3, 3] : [1, 0]"}},
                "opacity": {"value": 1}
              }}}}}},
        {"mark": "rule", "encoding": {"y": {"field": "q3", "type": "quantitative", "title": "NSE"}, "y2": {"field": "hi"}, "color": {"datum": "Outlier", "type": "nominal"}}},
        {"mark": "bar", "encoding": {"y": {"field": "q1", "type": "quantitative", "title": "NSE"}, "y2": {"field": "q3"}, "color": {"datum": "NSE (25%-75%)", "type": "nominal"}}},
        {"mark": {"type": "tick", "size": 16}, "encoding": {"y": {"field": "md", "type": "quantitative", "title": "NSE"}, "color": {"datum": "Median Line", "type": "nominal"}}},
        {"mark": "square", "encoding": {"y": {"field": "mn", "type": "quantitative", "title": "NSE"}, "color": {"datum": "Mean", "type": "nominal"}}}
      ]
    }
  ],
  "config": {
    "font": "Liberation Serif",
    "view": {"stroke": null},
    "axis": {
      "grid": false,
      "domainColor": "#7a7a7a", "domainWidth": 1.5,
      "tickColor": "#7a7a7a", "tickWidth": 1.5,
      "labelFont": "Liberation Serif", "labelFontSize": 25, "labelColor": "#111",
      "titleFont": "Liberation Serif", "titleFontWeight": "normal", "titleColor": "#111"
    },
    "axisY": {"titleFontSize": 32, "labelPadding": 8, "titlePadding": 10},
    "axisX": {"titleFontSize": 30, "titlePadding": 4},
    "title": {"anchor": "start", "frame": "group", "orient": "top", "offset": 0, "baseline": "middle",
      "fontSize": 34, "font": "Liberation Serif", "fontWeight": "normal", "color": "#111"},
    "rule": {"color": "#2e9b9b", "strokeDash": [3, 3], "strokeWidth": 1.5},
    "bar": {"filled": false, "color": "#0000ff", "strokeWidth": 2},
    "tick": {"color": "#127a12", "thickness": 3},
    "square": {"color": "#fa7a1e", "size": 42, "opacity": 1}
  }
}
